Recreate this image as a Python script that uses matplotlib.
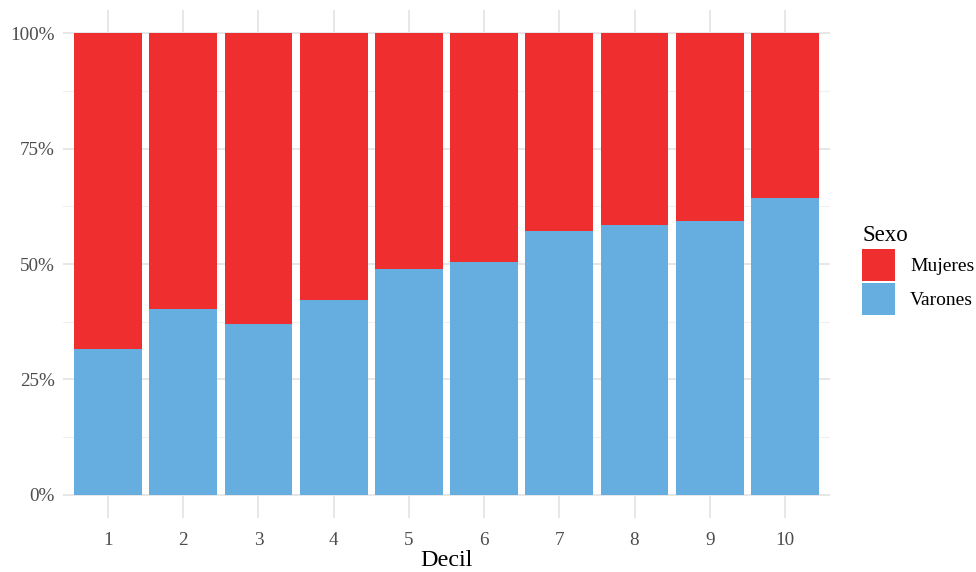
import matplotlib
matplotlib.use("Agg")
import matplotlib.pyplot as plt
from matplotlib.patches import Patch
from matplotlib.ticker import FuncFormatter, MultipleLocator

# Share of each sex within each income decile (%)
deciles = [1, 2, 3, 4, 5, 6, 7, 8, 9, 10]
varones = [31.6, 40.3, 37.1, 42.3, 48.9, 50.4, 57.1, 58.4, 59.3, 64.4]
mujeres = [100 - v for v in varones]
y_ticks = [0, 25, 50, 75, 100]

col_muj = "#EE2E2F"
col_var = "#65AEDF"

plt.rcParams["font.family"] = ["Liberation Serif", "DejaVu Serif"]

fig = plt.figure(figsize=(9.76, 5.72), dpi=100)
ax = fig.add_axes([0.0645, 0.0944, 0.786, 0.888])

ax.bar(deciles, varones, width=0.9, color=col_var, zorder=2, linewidth=0)
ax.bar(deciles, mujeres, width=0.9, bottom=varones, color=col_muj, zorder=2, linewidth=0)

ax.set_xlim(0.4, 10.6)
ax.set_ylim(-5, 105)
ax.set_xticks(deciles)
ax.set_xticklabels([str(d) for d in deciles])
ax.set_yticks(y_ticks)
ax.yaxis.set_major_formatter(FuncFormatter(lambda v, p: f"{int(v)}%"))
ax.yaxis.set_minor_locator(MultipleLocator(12.5))

ax.grid(which="major", axis="both", color="#E5E5E5", linewidth=1.3, zorder=0)
ax.grid(which="minor", axis="y", color="#F0F0F0", linewidth=0.8, zorder=0)
ax.set_axisbelow(True)
for s in ax.spines.values():
    s.set_visible(False)
ax.tick_params(axis="both", which="both", length=0, labelsize=13.8, labelcolor="#4D4D4D")
ax.tick_params(axis="x", pad=10)
ax.tick_params(axis="y", pad=6)

ax.set_xlabel("Decil", fontsize=17.4, color="black", labelpad=1)

handles = [Patch(facecolor=col_muj, edgecolor="none"), Patch(facecolor=col_var, edgecolor="none")]
leg = ax.legend(handles, ["Mujeres", "Varones"], title="Sexo", loc="center left",
                bbox_to_anchor=(1.042, 0.488), frameon=False, fontsize=14,
                title_fontsize=16.5, handlelength=1.7, handleheight=2.15,
                labelspacing=0.12, handletextpad=0.75, alignment="left",
                borderpad=0, borderaxespad=0)

fig.savefig("out.png", dpi=100)
